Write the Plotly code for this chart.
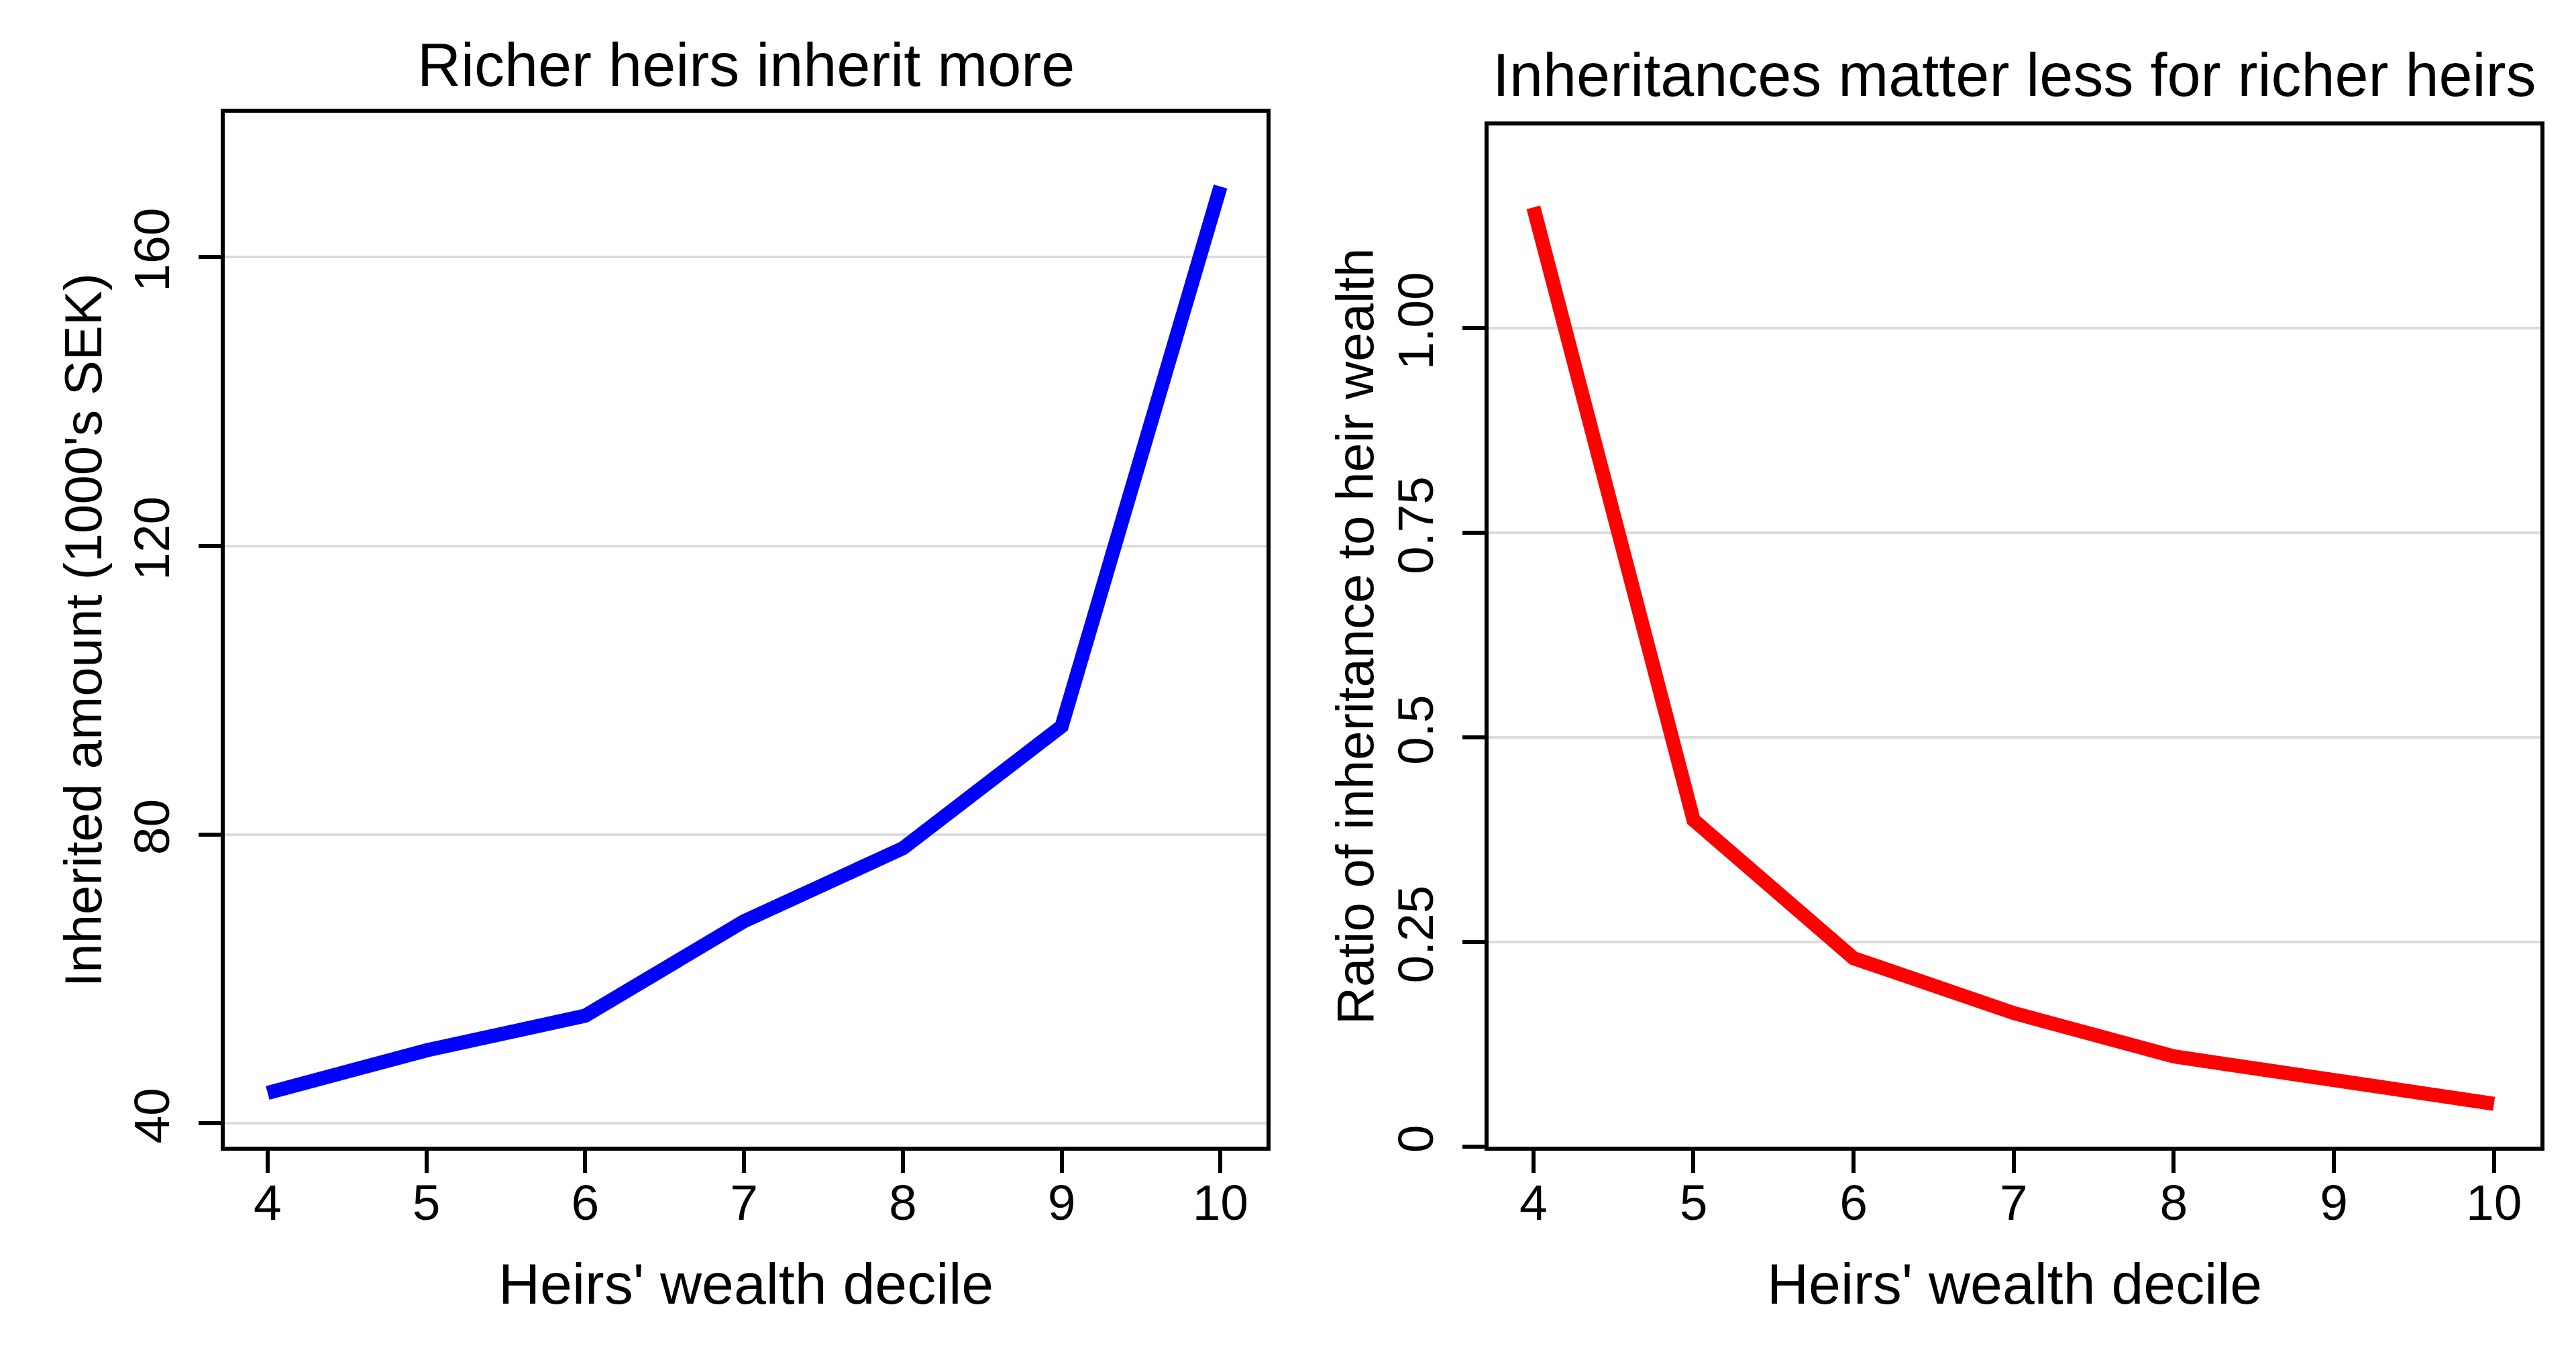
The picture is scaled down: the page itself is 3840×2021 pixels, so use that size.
import plotly.graph_objects as go
from plotly.subplots import make_subplots

# heirs' wealth deciles shown on both panels
deciles = [4, 5, 6, 7, 8, 9, 10]

# left panel: inherited amount, 1000's SEK
inherited_amount = [44.2, 50.1, 54.9, 68.0, 78.1, 95.0, 169.8]

# right panel: ratio of inheritance to heir wealth
inheritance_ratio = [1.148, 0.399, 0.230, 0.163, 0.110, 0.081, 0.052]

left_ticks = [40, 80, 120, 160]
right_ticks = [0, 0.25, 0.5, 0.75, 1.0]
right_ticktext = ["0", "0.25", "0.5", "0.75", "1.00"]

FONT = "Liberation Sans, Arial, Helvetica, sans-serif"
W, H = 3840, 2021

fig = make_subplots(rows=1, cols=2)

fig.add_trace(go.Scatter(x=deciles, y=inherited_amount, mode="lines",
                         line=dict(color="#0000ff", width=21)), row=1, col=1)
fig.add_trace(go.Scatter(x=deciles, y=inheritance_ratio, mode="lines",
                         line=dict(color="#ff0000", width=21)), row=1, col=2)

axis_common = dict(showline=True, linecolor="black", linewidth=6, mirror=True,
                   ticks="outside", tickwidth=6, tickcolor="black",
                   tickfont=dict(family=FONT, size=75, color="black"),
                   zeroline=False)

# x axes
fig.update_xaxes(axis_common, showgrid=False, tickvals=deciles, ticklen=33,
                 ticklabelstandoff=-20)
fig.update_xaxes(domain=[327 / W, 1880 / W], range=[3.73, 10.29], row=1, col=1)
fig.update_xaxes(domain=[2211 / W, 3779 / W], range=[3.72, 10.29], row=1, col=2)

# y axes
fig.update_yaxes(axis_common, showgrid=True, gridcolor="#dcdcdc", gridwidth=4,
                 ticklen=33, tickangle=-90, ticklabelstandoff=14)
fig.update_yaxes(domain=[1 - 1709 / H, 1 - 161 / H], range=[36.8, 180],
                 tickvals=left_ticks, row=1, col=1)
fig.update_yaxes(domain=[1 - 1709 / H, 1 - 180 / H], range=[0, 1.248],
                 tickvals=right_ticks, ticktext=right_ticktext, row=1, col=2)

def note(text, x, y, size, angle=0):
    fig.add_annotation(text=text, x=x / W, y=1 - y / H, xref="paper", yref="paper",
                       showarrow=False, textangle=angle, xanchor="center", yanchor="middle",
                       font=dict(family=FONT, size=size, color="black"))

# panel titles
note("Richer heirs inherit more", 1104, 89, 90)
note("Inheritances matter less for richer heirs", 2995, 105, 90)

# axis titles
note("Heirs' wealth decile", 1104, 1914, 86)
note("Heirs' wealth decile", 2995, 1914, 86)
note("Inherited amount (1000's SEK)", 116, 936, 78, -90)
note("Ratio of inheritance to heir wealth", 2012, 945, 78, -90)

fig.update_layout(width=W, height=H, showlegend=False,
                  margin=dict(l=0, r=0, t=0, b=0),
                  paper_bgcolor="white", plot_bgcolor="white")

fig.write_html("out.html")
